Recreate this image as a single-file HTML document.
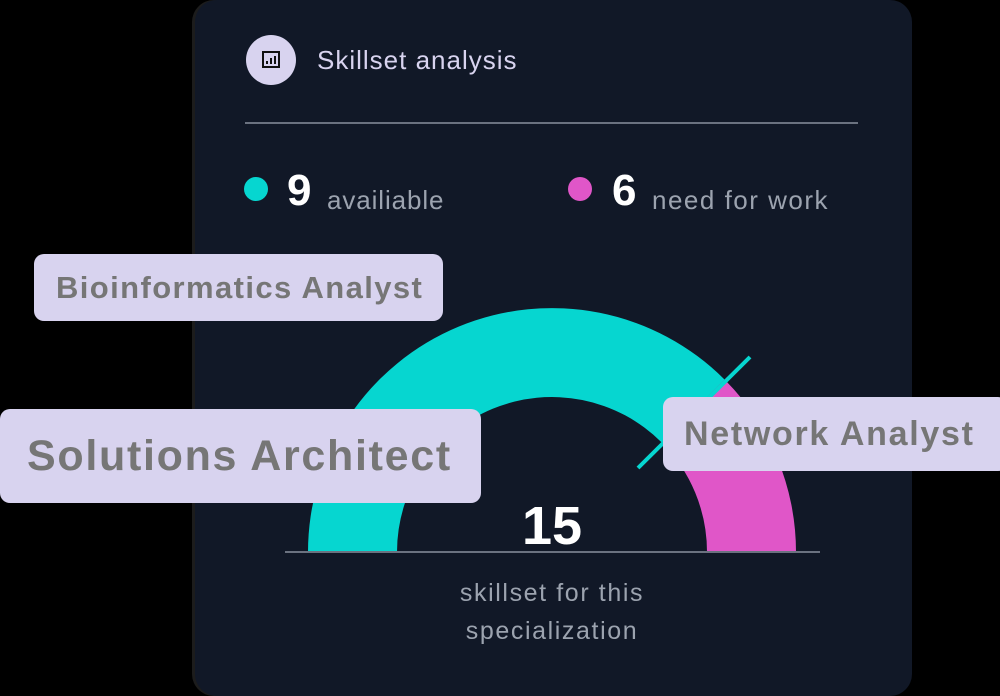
<!DOCTYPE html>
<html><head><meta charset="utf-8"><style>
html,body{margin:0;padding:0;background:#000;}
body{width:1000px;height:696px;position:relative;overflow:hidden;font-family:"Liberation Sans",sans-serif;}
.card{position:absolute;left:195px;top:0;width:717px;height:696px;background:#111827;border-radius:22px;box-shadow:-3px 0 0 #1c1c1c;}
.t{position:absolute;white-space:nowrap;}
.tag{position:absolute;background:#d8d3ef;border-radius:10px;color:#767676;font-weight:bold;white-space:nowrap;box-sizing:border-box;}
</style></head><body>
<div class="card"></div>
<svg style="position:absolute;left:0;top:0" width="1000" height="696">
<circle cx="271" cy="60" r="25" fill="#d8d3ef"/>
<rect x="263" y="52" width="16" height="15" fill="none" stroke="#111" stroke-width="2"/>
<rect x="266" y="61" width="2" height="3" fill="#111"/><rect x="270" y="58" width="2" height="6" fill="#111"/><rect x="274" y="56" width="2" height="8" fill="#111"/>
<line x1="245" y1="123" x2="858" y2="123" stroke="#6b7280" stroke-width="2"/>
<circle cx="256" cy="189" r="12" fill="#06d6d0"/>
<circle cx="580" cy="189" r="12" fill="#e056c8"/>
<path d="M308 552 A244 244 0 0 1 724.5 379.5 L661.6 442.4 A155 155 0 0 0 397 552 Z" fill="#06d6d0"/>
<path d="M724.5 379.5 A244 244 0 0 1 796 552 L707 552 A155 155 0 0 0 661.6 442.4 Z" fill="#e056c8"/>
<line x1="638" y1="468" x2="750" y2="357" stroke="#06d6d0" stroke-width="4"/>
<line x1="285" y1="552" x2="820" y2="552" stroke="#6b7280" stroke-width="2"/>
</svg>
<div class="t" style="left:317px;top:45px;font-size:26px;letter-spacing:1px;color:#d8d3ef;">Skillset analysis</div>
<div class="t" style="left:287px;top:166px;font-size:44px;font-weight:bold;color:#fff;">9</div>
<div class="t" style="left:327px;top:185px;font-size:26px;letter-spacing:0.9px;color:#9ca3af;">availiable</div>
<div class="t" style="left:612px;top:166px;font-size:44px;font-weight:bold;color:#fff;">6</div>
<div class="t" style="left:652px;top:185px;font-size:26px;letter-spacing:1.5px;color:#9ca3af;">need for work</div>
<div class="t" style="left:452px;top:495px;width:200px;text-align:center;font-size:54px;font-weight:bold;color:#fff;">15</div>
<div class="t" style="left:402px;top:574px;width:300px;text-align:center;font-size:25px;line-height:38px;letter-spacing:1.6px;color:#9ca3af;">skillset for this<br>specialization</div>
<div class="tag" style="left:34px;top:254px;width:409px;height:67px;font-size:31px;line-height:67px;padding-left:22px;letter-spacing:1.4px;">Bioinformatics Analyst</div>
<div class="tag" style="left:0;top:409px;width:481px;height:94px;font-size:43px;line-height:94px;padding-left:27px;letter-spacing:1.7px;">Solutions Architect</div>
<div class="tag" style="left:663px;top:397px;width:345px;height:74px;font-size:34px;line-height:74px;padding-left:21px;letter-spacing:1.7px;">Network Analyst</div>
</body></html>
